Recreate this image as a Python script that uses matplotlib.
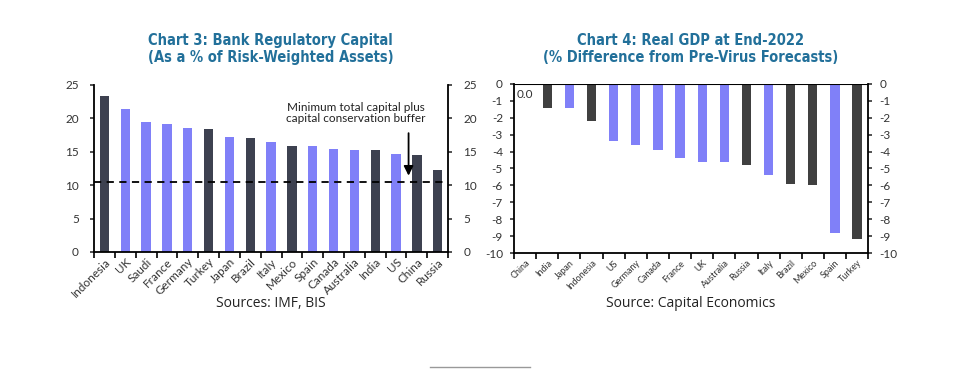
import matplotlib.pyplot as plt

# chart 3: bank regulatory capital
cap_countries = ['Indonesia', 'UK', 'Saudi', 'France', 'Germany', 'Turkey', 'Japan', 'Brazil',
                 'Italy', 'Mexico', 'Spain', 'Canada', 'Australia', 'India', 'US', 'China', 'Russia']
cap_values = [23.3, 21.4, 19.4, 19.1, 18.6, 18.4, 17.2, 17.0, 16.5, 15.9, 15.9, 15.4, 15.2, 15.2, 14.7, 14.5, 12.3]
cap_em = [1, 0, 0, 0, 0, 1, 0, 1, 0, 1, 0, 0, 0, 1, 0, 1, 1]
min_capital = 10.5

# chart 4: real GDP vs pre-virus forecasts
gdp_countries = ['China', 'India', 'Japan', 'Indonesia', 'US', 'Germany', 'Canada', 'France', 'UK',
                 'Australia', 'Russia', 'Italy', 'Brazil', 'Mexico', 'Spain', 'Turkey']
gdp_values = [0.0, -1.4, -1.4, -2.2, -3.4, -3.6, -3.9, -4.4, -4.6, -4.6, -4.8, -5.4, -5.9, -6.0, -8.8, -9.2]
gdp_em = [1, 1, 0, 1, 0, 0, 0, 0, 0, 0, 1, 0, 1, 1, 0, 1]

blue = '#8080f8'
title_col = '#22709a'
tick_font = ['Lato', 'DejaVu Sans']

plt.rcParams['font.family'] = ['DejaVu Sans']
plt.rcParams['axes.unicode_minus'] = False

fig = plt.figure(figsize=(9.7, 3.71), dpi=100)

# ---- left chart
ax1 = fig.add_axes([0.097, 0.321, 0.365, 0.450])
x1 = range(len(cap_countries))
ax1.bar(x1, cap_values, width=0.45, color=[('#3d4150' if e else blue) for e in cap_em], zorder=2)
ax1.plot([-0.5, len(cap_countries) - 0.6], [min_capital, min_capital], ls=(0, (4, 3)), color='black', lw=1.3, zorder=3)
ax1.set_xlim(-0.5, len(cap_countries) - 0.5)
ax1.set_ylim(0, 25)
ax1.set_yticks(range(0, 26, 5))
ax1.set_xticks([i - 0.5 for i in range(len(cap_countries) + 1)], minor=False)
ax1.set_xticklabels([])
ax1.set_xticks(list(x1), minor=True)
ax1.set_xticklabels(cap_countries, minor=True, rotation=45, ha='right', rotation_mode='anchor',
                    fontsize=8.5, family=tick_font, color='#333333')
ax1.tick_params(axis='x', which='minor', length=0, pad=3)
ax1.tick_params(axis='x', which='major', length=4, width=1.2, direction='out')
ax1.tick_params(axis='y', labelsize=8.5, colors='#333333', length=3, width=1.2, direction='out',
                labelright=True, right=True, pad=8)
for lab in ax1.get_yticklabels():
    lab.set_family(tick_font)
ax1.spines['top'].set_visible(False)
for s in ['left', 'right', 'bottom']:
    ax1.spines[s].set_linewidth(1.3)
ax1.text(15.4, 20.8, 'Minimum total capital plus\ncapital conservation buffer', ha='right', va='center',
         fontsize=8.5, family=tick_font, color='#222222', linespacing=1.1)
ax1.annotate('', xy=(14.6, 11.0), xytext=(14.6, 18.2),
             arrowprops=dict(arrowstyle='-|>', color='black', lw=1.3, mutation_scale=14))

# ---- right chart
ax2 = fig.add_axes([0.530, 0.318, 0.365, 0.456])
x2 = range(len(gdp_countries))
ax2.bar(x2, gdp_values, width=0.42, color=[('#404040' if e else blue) for e in gdp_em], zorder=2)
ax2.set_xlim(-0.5, len(gdp_countries) - 0.5)
ax2.set_ylim(-10, 0)
ax2.set_yticks(range(-10, 1))
ax2.axhline(0, color='black', lw=1.5, zorder=3)
ax2.set_xticks([i - 0.5 for i in range(len(gdp_countries) + 1)])
ax2.set_xticklabels([])
ax2.set_xticks(list(x2), minor=True)
ax2.set_xticklabels(gdp_countries, minor=True, rotation=45, ha='right', rotation_mode='anchor',
                    fontsize=6.5, family=tick_font, color='#333333')
ax2.tick_params(axis='x', which='minor', length=0, pad=4)
ax2.tick_params(axis='x', which='major', length=4, width=1.2, direction='out')
ax2.tick_params(axis='y', labelsize=8.5, colors='#333333', length=3, width=1.2, direction='out',
                labelright=True, right=True, pad=5)
for lab in ax2.get_yticklabels():
    lab.set_family(tick_font)
ax2.spines['top'].set_visible(False)
for s in ['left', 'right', 'bottom']:
    ax2.spines[s].set_linewidth(1.3)
ax2.text(0.0, -0.65, '0.0', ha='center', va='center', fontsize=8.5, family=tick_font, color='#333333')

# titles and sources
title_kw = dict(ha='center', va='center', fontsize=10.5, color=title_col, weight='semibold',
                fontstretch='condensed')
fig.text(0.279, 0.892, 'Chart 3: Bank Regulatory Capital', **title_kw)
fig.text(0.279, 0.846, '(As a % of Risk-Weighted Assets)', **title_kw)
fig.text(0.712, 0.892, 'Chart 4: Real GDP at End-2022', **title_kw)
fig.text(0.712, 0.846, '(% Difference from Pre-Virus Forecasts)', **title_kw)
fig.text(0.279, 0.183, 'Sources: IMF, BIS', ha='center', va='center', fontsize=10,
         family=['Open Sans', 'DejaVu Sans'], color='#222222')
fig.text(0.712, 0.183, 'Source: Capital Economics', ha='center', va='center', fontsize=10,
         family=['Open Sans', 'DejaVu Sans'], color='#222222')
fig.add_artist(plt.Line2D([0.443, 0.546], [0.011, 0.011], color='#999999', lw=1))

fig.savefig('out.png', dpi=100)
